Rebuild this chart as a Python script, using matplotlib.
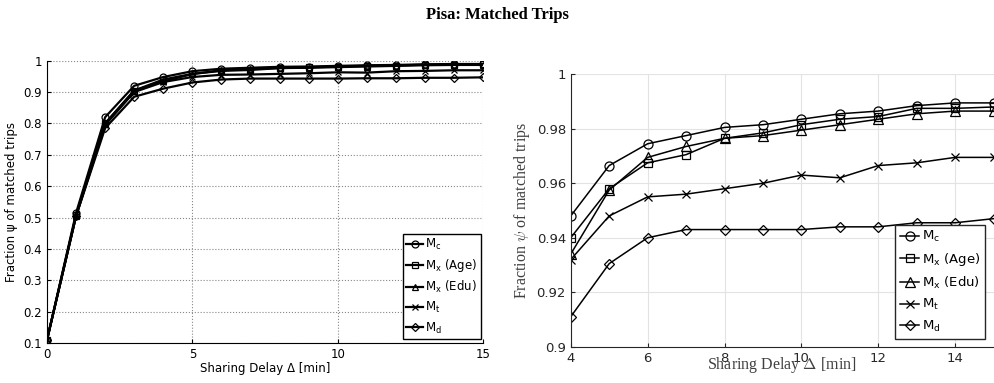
import matplotlib
matplotlib.use("Agg")
import matplotlib.pyplot as plt
import numpy as np
from matplotlib.ticker import FuncFormatter

# sharing delay [min]
delay = np.arange(0, 16)

# fraction of matched trips per model
m_c = [0.11, 0.515, 0.82, 0.92, 0.948, 0.9665, 0.9745, 0.9775, 0.9805, 0.9815,
       0.9835, 0.9855, 0.9865, 0.9885, 0.9895, 0.9895]
m_age = [0.11, 0.508, 0.80, 0.905, 0.940, 0.958, 0.9675, 0.9705, 0.9765, 0.9785,
         0.9815, 0.9835, 0.9845, 0.9875, 0.9875, 0.988]
m_edu = [0.11, 0.505, 0.80, 0.905, 0.934, 0.9575, 0.9695, 0.9735, 0.9765, 0.9775,
         0.9795, 0.9815, 0.9835, 0.9855, 0.9865, 0.9865]
m_t = [0.11, 0.505, 0.795, 0.90, 0.932, 0.948, 0.955, 0.956, 0.958, 0.960,
       0.963, 0.962, 0.9665, 0.9675, 0.9695, 0.9695]
m_d = [0.11, 0.505, 0.785, 0.885, 0.911, 0.9305, 0.940, 0.943, 0.943, 0.943,
       0.943, 0.944, 0.944, 0.9455, 0.9455, 0.947]

labels = [r'$\mathregular{M_c}$', r'$\mathregular{M_x}$ (Age)', r'$\mathregular{M_x}$ (Edu)',
          r'$\mathregular{M_t}$', r'$\mathregular{M_d}$']
series = [m_c, m_age, m_edu, m_t, m_d]
markers = ['o', 's', '^', 'x', 'D']
msizes = [5, 4, 5, 4, 4]

fig = plt.figure(figsize=(9.94, 3.83), dpi=100)
fig.text(0.5, 0.962, 'Pisa: Matched Trips', ha='center', va='center',
         family='Liberation Serif', fontweight='bold', fontsize=12)

# ---- left: full range, old matlab look
ax1 = fig.add_axes([0.0473, 0.1044, 0.4386, 0.7371])
for y, mk, ms, lb in zip(series, markers, msizes, labels):
    ax1.plot(delay, y, color='black', lw=1.6, marker=mk, ms=ms, mfc='none',
             mew=0.9, label=lb)
ax1.set_xlim(0, 15)
ax1.set_ylim(0.1, 1)
ax1.set_xticks([0, 5, 10, 15])
ax1.set_yticks(np.arange(0.1, 1.01, 0.1))
ax1.yaxis.set_major_formatter(FuncFormatter(lambda v, p: '%g' % round(v, 2)))
ax1.grid(True, linestyle=':', color='#888888', lw=0.8)
for s in ['top', 'right']:
    ax1.spines[s].set_visible(False)
ax1.tick_params(direction='in', labelsize=8.5, length=3)
ax1.set_xlabel('Sharing Delay Δ [min]', fontsize=8.5, labelpad=1)
ax1.set_ylabel('Fraction ψ of matched trips', fontsize=8.5, labelpad=4)
leg1 = ax1.legend(loc='lower right', bbox_to_anchor=(0.995, 0.014), fontsize=8.5,
                  handlelength=1.4, handletextpad=0.2, labelspacing=0.42,
                  borderpad=0.3, borderaxespad=0, fancybox=False, framealpha=1,
                  edgecolor='black')
leg1.get_frame().set_linewidth(1.0)

# ---- right: zoom 4..15, newer matlab look
ax2 = fig.add_axes([0.5742, 0.0948, 0.4254, 0.7112])
for y, mk, ms, lb in zip(series, markers, msizes, labels):
    ax2.plot(delay[4:], y[4:], color='black', lw=1.1, marker=mk, ms=ms + 1.5,
             mfc='none', mew=0.9, label=lb)
ax2.set_xlim(4, 15)
ax2.set_ylim(0.9, 1)
ax2.set_xticks([4, 6, 8, 10, 12, 14])
ax2.set_yticks([0.9, 0.92, 0.94, 0.96, 0.98, 1.0])
ax2.yaxis.set_major_formatter(FuncFormatter(lambda v, p: '%g' % round(v, 3)))
ax2.grid(True, color='#e3e3e3', lw=0.8)
ax2.set_axisbelow(True)
for s in ['top', 'right']:
    ax2.spines[s].set_visible(False)
ax2.spines['left'].set_color('#262626')
ax2.spines['bottom'].set_color('#262626')
ax2.tick_params(direction='in', labelsize=9.5, length=3, colors='#262626')
ax2.set_xlabel(r'Sharing Delay $\Delta$ [min]', fontsize=11.5,
               family='Liberation Serif', color='#404040', labelpad=-7,
               math_fontfamily='cm')
ax2.set_ylabel(r'Fraction $\psi$ of matched trips', fontsize=11.5,
               family='Liberation Serif', color='#404040', labelpad=3,
               math_fontfamily='cm')
leg2 = ax2.legend(loc='lower right', bbox_to_anchor=(0.98, 0.029), fontsize=9.5,
                  handlelength=1.5, handletextpad=0.2, labelspacing=0.5,
                  borderpad=0.35, borderaxespad=0, fancybox=False, framealpha=1,
                  edgecolor='#262626')
leg2.get_frame().set_linewidth(1.0)

fig.savefig('out.png', dpi=100)
